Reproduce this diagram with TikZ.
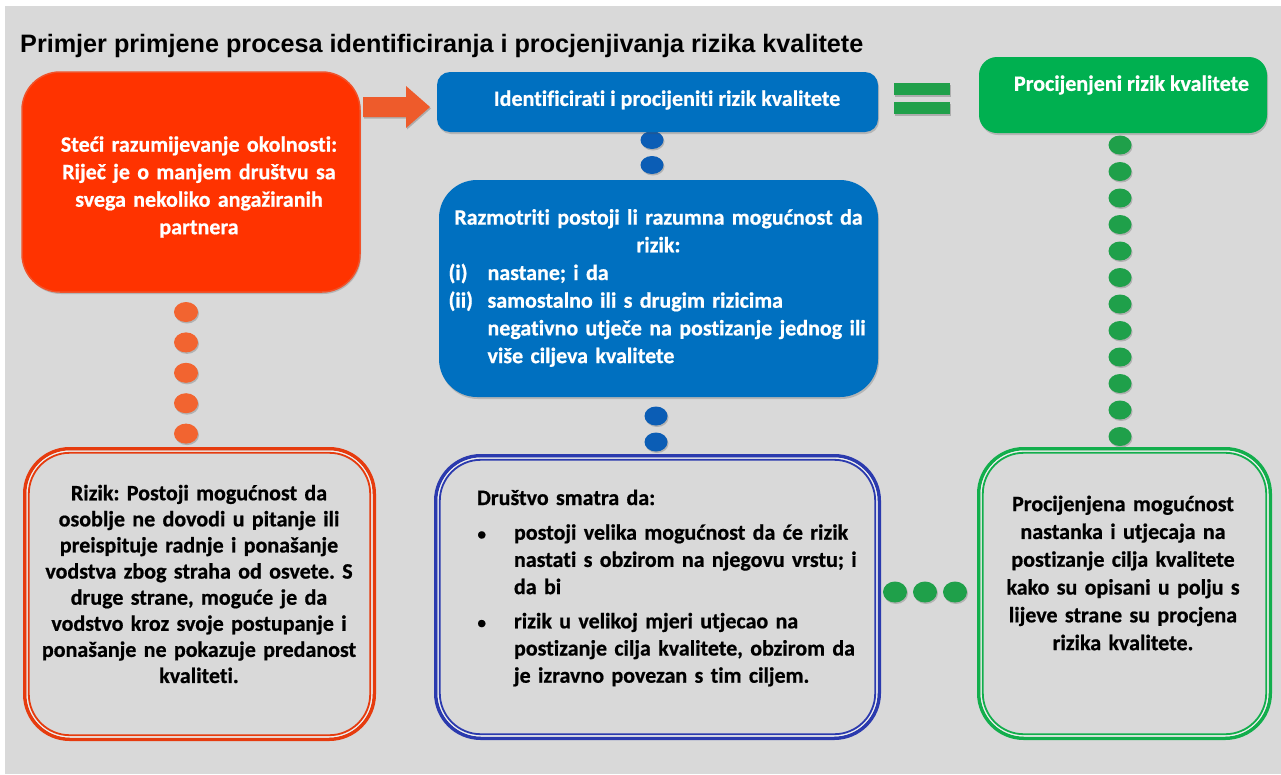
\documentclass[tikz,border=0pt]{standalone}
\usepackage{fontspec}
\setmainfont{Carlito}[Ligatures=NoCommon, BoldFeatures={FakeBold=0.7}]
\newfontfamily\titlefont{Liberation Sans}
\usetikzlibrary{calc,shadows}
\setlength{\parindent}{0pt}
\setlength{\parskip}{0pt}
\frenchspacing
\definecolor{bggray}{HTML}{D9D9D9}
\definecolor{orangebox}{HTML}{FF3300}
\definecolor{orangeedge}{HTML}{F0522A}
\definecolor{arrowc}{HTML}{EE5B2B}
\definecolor{bluebox}{HTML}{0070C0}
\definecolor{bluedot}{HTML}{0B5DB5}
\definecolor{greenbox}{HTML}{00B050}
\definecolor{eqgreen}{HTML}{20A04A}
\definecolor{greendot}{HTML}{1FA04A}
\definecolor{orangedot}{HTML}{F26430}
\definecolor{redline}{HTML}{E63B0E}
\definecolor{navyline}{HTML}{2B3AAE}
\definecolor{greenline}{HTML}{12AE4C}
\begin{document}
\begin{tikzpicture}[x=1pt,y=-1pt,
  filled/.style={rounded corners=#1, inner sep=0pt, outer sep=0pt,
    drop shadow={shadow xshift=1pt, shadow yshift=-2pt, opacity=0.25, fill=black!70}},
  frame/.style={inner sep=0pt, outer sep=0pt, rounded corners=#1},
  txt/.style={inner sep=0pt, font=\fontsize{22}{27.5}\selectfont\bfseries},
  dotshadow/.style={fill=black, opacity=0.18}]

\useasboundingbox (0,0) rectangle (1281,774);
\fill[white] (0,0) rectangle (1281,774);
\fill[bggray] (5,6) rectangle (1281,774);

% title
\node[inner sep=0pt, anchor=base west, font=\titlefont\bfseries\fontsize{25.2}{30}\selectfont] (title) at (20,52)
  {Primjer primjene procesa identificiranja i procjenjivanja rizika kvalitete};

% framed boxes (outline drawn below)
\path node[frame=45pt, minimum width=353pt, minimum height=294pt] (e) at (199.5,594) {}
      node[frame=45pt, minimum width=447pt, minimum height=286pt] (f) at (657.5,597) {}
      node[frame=45pt, minimum width=295pt, minimum height=293pt] (g) at (1124.5,593.5) {};
\coordinate (aS) at (191,292);
\coordinate (bS) at (657.5,132);
\coordinate (cS) at (1123,133);
\coordinate (dS) at (658.5,397);

% dotted connectors
\foreach \i in {0,...,4}{
  \fill[dotshadow] ($(aS)+(-4,21.5+30.4*\i)$) ellipse [x radius=12pt, y radius=10pt];
  \fill[orangedot] ($(aS)+(-5,20+30.4*\i)$) ellipse [x radius=12pt, y radius=10pt];
}
\foreach \dy in {8,33}{
  \fill[dotshadow] ($(bS)+(-4.5,\dy+1.5)$) ellipse [x radius=11.5pt, y radius=9pt];
  \fill[bluedot] ($(bS)+(-5.5,\dy)$) ellipse [x radius=11.5pt, y radius=9pt];
}
\foreach \dy in {19,45}{
  \fill[dotshadow] ($(dS)+(-1.5,\dy+1.5)$) ellipse [x radius=11.5pt, y radius=9.5pt];
  \fill[bluedot] ($(dS)+(-2.5,\dy)$) ellipse [x radius=11.5pt, y radius=9.5pt];
}
\foreach \i in {0,...,11}{
  \fill[dotshadow] ($(cS)+(-2,13.5+26.5*\i)$) ellipse [x radius=11.5pt, y radius=9.5pt];
  \fill[greendot] ($(cS)+(-3,12+26.5*\i)$) ellipse [x radius=11.5pt, y radius=9.5pt];
}
\foreach \i in {0,1,2}{
  \fill[dotshadow] ($(f.east)+(15+30*\i,-3.5)$) ellipse [x radius=12pt, y radius=10.5pt];
  \fill[greendot] ($(f.east)+(14+30*\i,-5)$) ellipse [x radius=12pt, y radius=10.5pt];
}

% filled boxes
\node[filled=38pt, fill=orangebox, draw=orangeedge, line width=1.5pt, minimum width=338pt, minimum height=220pt] (a) at (191,182) {};
\node[filled=13pt, fill=bluebox, minimum width=441pt, minimum height=60pt] (b) at (657.5,102) {};
\node[filled=18pt, fill=greenbox, minimum width=288pt, minimum height=76pt] (c) at (1123,95) {};
\node[filled=38pt, fill=bluebox, minimum width=439pt, minimum height=217pt] (d) at (658.5,288.5) {};

% double frames
\foreach \n/\col in {e/redline,f/navyline,g/greenline}{
  \draw[\col, line width=3.5pt, rounded corners=45pt] ($(\n.north west)+(1.75,1.75)$) rectangle ($(\n.south east)+(-1.75,-1.75)$);
  \draw[white!55!bggray, line width=1.4pt, rounded corners=43pt] ($(\n.north west)+(4.2,4.2)$) rectangle ($(\n.south east)+(-4.2,-4.2)$);
  \draw[\col, line width=1.8pt, rounded corners=41pt] ($(\n.north west)+(5.8,5.8)$) rectangle ($(\n.south east)+(-5.8,-5.8)$);
}

% block arrow a -> b
\fill[arrowc, drop shadow={shadow xshift=1pt, shadow yshift=-1.5pt, opacity=0.2, fill=black}]
  (363,97) -- (406,97) -- (406,86) -- (430,107) -- (406,128) -- (406,117) -- (363,117) -- cycle;

% equals sign b = c
\fill[eqgreen, drop shadow={shadow xshift=1pt, shadow yshift=-1.5pt, opacity=0.2, fill=black}] (894,83) rectangle (950,95);
\fill[eqgreen, drop shadow={shadow xshift=1pt, shadow yshift=-1.5pt, opacity=0.2, fill=black}] (894,102) rectangle (950,114);

% texts
\node[txt, text=white, text width=330pt, align=center] (ta) at (199,187)
  {Steći razumijevanje okolnosti:\\Riječ je o manjem društvu sa\\svega nekoliko angažiranih\\partnera};
\node[txt, text=white] (tb) at (667,100) {Identificirati i procijeniti rizik kvalitete};
\node[txt, text=white] (tc) at (1131.5,85) {Procijenjeni rizik kvalitete};
\node[txt, text=white, text width=420pt, align=left, font=\fontsize{22}{27.7}\selectfont\bfseries] (td) at (658.5,288)
  {{\centering Razmotriti postoji li razumna mogućnost da\\rizik:\par}
   \mbox{\makebox[39pt][l]{(i)}nastane; i da}\par
   \mbox{\makebox[39pt][l]{(ii)}samostalno ili s drugim rizicima}\par
   \mbox{\hspace*{39pt}negativno utječe na postizanje jednog ili}\par
   \mbox{\hspace*{39pt}više ciljeva kvalitete}};
\node[txt, text=black, text width=340pt, align=center, font=\fontsize{22}{26.1}\selectfont\bfseries] (te) at (199,584)
  {Rizik: Postoji mogućnost da\\osoblje ne dovodi u pitanje ili\\preispituje radnje i ponašanje\\vodstva zbog straha od osvete. S\\druge strane, moguće je da\\vodstvo kroz svoje postupanje i\\ponašanje ne pokazuje predanost\\kvaliteti.};
\node[txt, text=black, text width=400pt, align=left, font=\fontsize{22}{27.2}\selectfont\bfseries] (tf) at (677,588)
  {Društvo smatra da:\par\vspace{7.5pt}
   \mbox{\makebox[37pt][l]{\hspace{0.5pt}{\fontsize{17}{17}\selectfont\textbullet}}postoji velika mogućnost da će rizik}\par
   \mbox{\hspace*{37pt}nastati s obzirom na njegovu vrstu; i}\par
   \mbox{\hspace*{37pt}da bi}\par\vspace{7pt}
   \mbox{\makebox[37pt][l]{\hspace{0.5pt}{\fontsize{17}{17}\selectfont\textbullet}}rizik u velikoj mjeri utjecao na}\par
   \mbox{\hspace*{37pt}postizanje cilja kvalitete, obzirom da}\par
   \mbox{\hspace*{37pt}je izravno povezan s tim ciljem.}};
\node[txt, text=black, text width=290pt, align=center, font=\fontsize{22}{27.8}\selectfont\bfseries] (tg) at (1123,573)
  {Procijenjena mogućnost\\nastanka i utjecaja na\\postizanje cilja kvalitete\\kako su opisani u polju s\\lijeve strane su procjena\\rizika kvalitete.};
\end{tikzpicture}
\end{document}
